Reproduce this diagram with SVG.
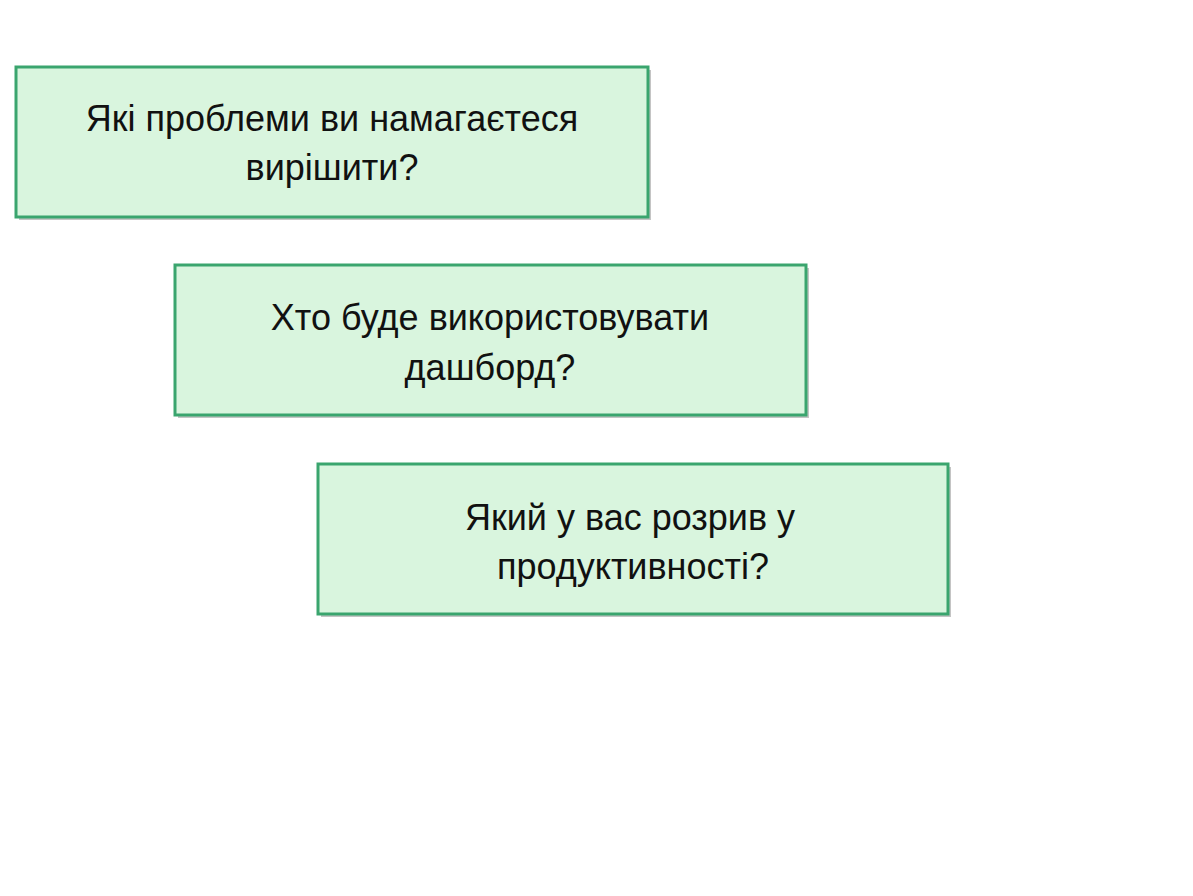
<svg xmlns="http://www.w3.org/2000/svg" width="1193" height="896" viewBox="0 0 1193 896">
<style>
.box{fill:#d9f5de;stroke:#3aa56e;stroke-width:3}
.sh{fill:#8a8a8a;opacity:0.5}
text{font-family:"Liberation Sans",Arial,sans-serif;font-size:36px;fill:#111;text-anchor:middle}
</style>
<rect width="1193" height="896" fill="#fff"/>
<g id="node1"><rect class="sh" x="19" y="70" width="632" height="150"/><rect class="box" x="16" y="67" width="632" height="150"/>
<text x="332" y="131">Які проблеми ви намагаєтеся</text><text x="332" y="180">вирішити?</text></g>
<g id="node2"><rect class="sh" x="178" y="268" width="631" height="150"/><rect class="box" x="175" y="265" width="631" height="150"/>
<text x="490" y="330">Хто буде використовувати</text><text x="490" y="380">дашборд?</text></g>
<g id="node3"><rect class="sh" x="321" y="467" width="630" height="150"/><rect class="box" x="318" y="464" width="630" height="150"/>
<text x="630" y="530">Який у вас розрив у</text><text x="633" y="579">продуктивності?</text></g>
<g id="connectors"/>
</svg>
